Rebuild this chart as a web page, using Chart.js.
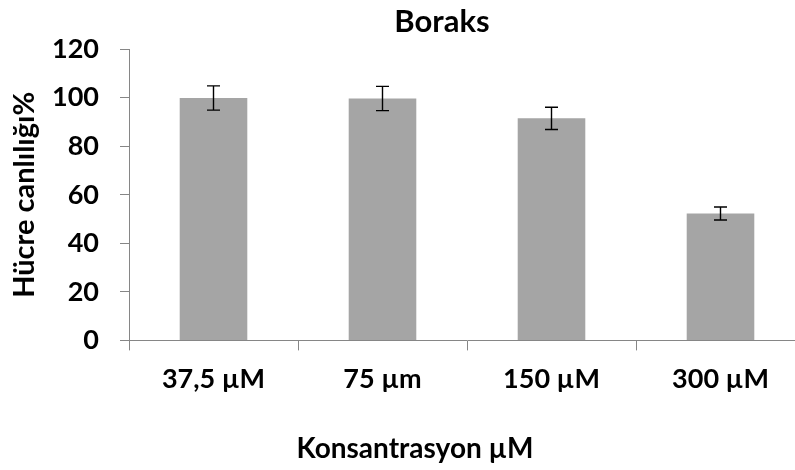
<!DOCTYPE html>
<html>
<head>
<meta charset="utf-8">
<script src="https://cdn.jsdelivr.net/npm/chart.js@4"></script>
<style>
  html, body { margin: 0; padding: 0; background: #fff; overflow: hidden; }
  #kutu { width: 795px; height: 470px; overflow: hidden; }
</style>
</head>
<body>
<div id="kutu"><canvas id="grafico" width="815" height="470"></canvas></div>
<script>
const kategoriler = ["37,5 µM", "75 µm", "150 µM", "300 µM"];
const canlilik = [99.9, 99.7, 91.5, 52.3];
const hata = [5.0, 5.0, 4.6, 2.7];
const yTikler = [0, 20, 40, 60, 80, 100, 120];

const FONT = "Lato, 'Open Sans', sans-serif";

// hata çubukları
const hataCubuklari = {
  id: "hataCubuklari",
  afterDatasetsDraw(chart) {
    const ctx = chart.ctx;
    const y = chart.scales.y;
    const meta = chart.getDatasetMeta(0);
    ctx.save();
    ctx.strokeStyle = "#000";
    ctx.lineWidth = 1.4;
    meta.data.forEach((bar, i) => {
      const ust = y.getPixelForValue(canlilik[i] + hata[i]);
      const alt = y.getPixelForValue(canlilik[i] - hata[i]);
      ctx.beginPath();
      ctx.moveTo(bar.x, ust); ctx.lineTo(bar.x, alt);
      ctx.moveTo(bar.x - 6.5, ust); ctx.lineTo(bar.x + 6.5, ust);
      ctx.moveTo(bar.x - 6.5, alt); ctx.lineTo(bar.x + 6.5, alt);
      ctx.stroke();
    });
    ctx.restore();
  }
};

// başlıkları yatayda kaydır (Excel'deki gibi)
const baslikKonum = {
  id: "baslikKonum",
  afterLayout(chart) {
    chart.boxes.forEach(b => {
      if (!b.options || b.options.text === undefined || b.isHorizontal === undefined) return;
      if (b.options.text === "Boraks") { b.left = 89; b.right = 795; }
      if (b.options.text === "Konsantrasyon µM") { b.left = 35; b.right = 795; }
    });
  }
};

new Chart(document.getElementById("grafico"), {
  type: "bar",
  data: {
    labels: kategoriler,
    datasets: [{
      data: canlilik,
      backgroundColor: "#a5a5a5",
      categoryPercentage: 1,
      barPercentage: 0.4
    }]
  },
  options: {
    responsive: false,
    animation: false,
    devicePixelRatio: 1,
    layout: { padding: { left: 0, right: 10, top: 0, bottom: 0 } },
    plugins: {
      legend: { display: false },
      tooltip: { enabled: false },
      title: {
        display: true,
        text: "Boraks",
        color: "#000",
        font: { family: FONT, size: 31, weight: "bold" },
        padding: { top: 3, bottom: 9 }
      },
      subtitle: {
        display: true,
        position: "bottom",
        text: "Konsantrasyon µM",
        color: "#000",
        font: { family: FONT, size: 28, weight: "bold" },
        padding: { top: 0, bottom: 4 }
      }
    },
    scales: {
      y: {
        min: 0, max: 120,
        afterFit: s => { s.width = 129; },
        afterBuildTicks: s => { s.ticks = yTikler.map(v => ({ value: v })); },
        border: { color: "#868686", width: 1 },
        grid: { drawOnChartArea: false, tickLength: 9, color: "#868686" },
        ticks: {
          color: "#000", padding: 21,
          font: { family: FONT, size: 27, weight: "bold" }
        },
        title: {
          display: true, text: "Hücre canlılığı%", color: "#000",
          font: { family: FONT, size: 29, weight: "bold" },
          padding: { top: 7 }
        }
      },
      x: {
        afterFit: s => { s.height = 92; },
        border: { color: "#868686", width: 1 },
        grid: { offset: true, drawOnChartArea: false, tickLength: 10, color: "#868686" },
        ticks: {
          color: "#000", padding: 13,
          font: { family: FONT, size: 27, weight: "bold" }
        }
      }
    }
  },
  plugins: [hataCubuklari, baslikKonum]
});
</script>
</body>
</html>
